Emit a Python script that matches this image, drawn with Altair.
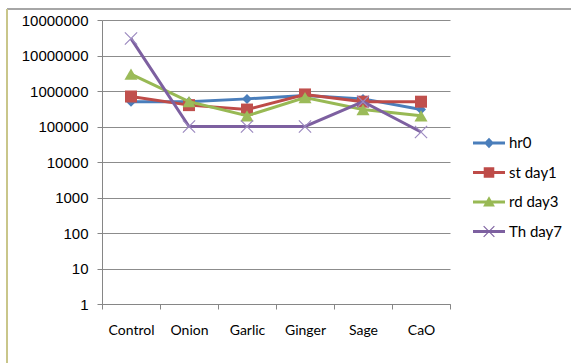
import altair as alt
import pandas as pd

# Bacterial counts per treatment over time
categories = ["Control", "Onion", "Garlic", "Ginger", "Sage", "CaO"]
series_names = ["hr0", "st day1", "rd day3", "Th day7"]
hr0 = [500000, 500000, 600000, 750000, 600000, 300000]
st_day1 = [700000, 400000, 300000, 800000, 500000, 500000]
rd_day3 = [3000000, 500000, 200000, 650000, 300000, 200000]
th_day7 = [30000000, 100000, 100000, 100000, 500000, 70000]

y_tick_values = [1, 10, 100, 1000, 10000, 100000, 1000000, 10000000, 100000000]
y_tick_labels = ["1", "10", "100", "1000", "10000", "100000", "1000000",
                 "10000000", "10000000"]

line_colors = ["#4a7ebb", "#be4b48", "#98b954", "#7d60a0"]
marker_colors = ["#4a7ebb", "#c0504d", "#9bbb59", "#9c8ac0"]

rows = []
for name, vals in zip(series_names, [hr0, st_day1, rd_day3, th_day7]):
    for cat, v in zip(categories, vals):
        rows.append({"category": cat, "series": name, "value": v})
df = pd.DataFrame(rows)

label_expr = "[{}][indexof([{}], datum.value)]".format(
    ",".join("'" + s + "'" for s in y_tick_labels),
    ",".join(str(v) for v in y_tick_values),
)

x_enc = alt.X(
    "category:N", sort=categories,
    scale=alt.Scale(type="band", paddingInner=0, paddingOuter=0),
    axis=alt.Axis(title=None, labelAngle=0, tickBand="extent", grid=False,
                  domainColor="#868686", tickColor="#868686", tickSize=5,
                  labelFont="Lato", labelFontSize=14, labelColor="#000000",
                  labelPadding=14),
)
y_enc = alt.Y(
    "value:Q",
    scale=alt.Scale(type="log", domain=[1, 100000000], nice=False),
    axis=alt.Axis(title=None, values=y_tick_values, labelExpr=label_expr,
                  grid=True, gridColor="#8c8c8c", gridWidth=1,
                  domainColor="#868686", tickColor="#868686", tickSize=5,
                  labelFont="Liberation Sans", labelFontSize=15,
                  labelColor="#000000", labelPadding=9),
)

# Legend glyphs: a short line segment with the series marker on it
seg = "M-1,-0.09H1V0.09H-1Z"
legend_shapes = [
    seg + "M0,-0.33L0.31,0L0,0.33L-0.31,0Z",
    seg + "M-0.33,-0.33H0.33V0.33H-0.33Z",
    seg + "M0,-0.36L0.37,0.28H-0.37Z",
    seg + "M-0.36,-0.31L-0.31,-0.36L0.36,0.31L0.31,0.36Z"
          "M0.31,-0.36L0.36,-0.31L-0.31,0.36L-0.36,0.31Z",
]

marker_specs = [
    dict(shape="diamond", size=100, filled=True),
    dict(shape="square", size=144, filled=True),
    dict(shape="triangle-up", size=170, filled=True),
    dict(shape="M-1,-1L1,1M-1,1L1,-1", size=150, filled=False, strokeWidth=1.2),
]

base = alt.Chart(df)
layers = []
for name, lcol, mcol, spec in zip(series_names, line_colors, marker_colors, marker_specs):
    sub = base.transform_filter(alt.datum.series == name)
    layers.append(sub.mark_line(strokeWidth=3, color=lcol).encode(x=x_enc, y=y_enc))
    pt_kwargs = dict(shape=spec["shape"], size=spec["size"], filled=spec["filled"],
                     opacity=1)
    if spec["filled"]:
        pt_kwargs["color"] = mcol
    else:
        pt_kwargs["stroke"] = mcol
        pt_kwargs["strokeWidth"] = spec["strokeWidth"]
    layers.append(sub.mark_point(**pt_kwargs).encode(x=x_enc, y=y_enc))

legend_opts = dict(title=None, orient="none", legendX=371, legendY=107,
                   symbolSize=1024, labelFont="Lato", labelFontSize=15,
                   labelColor="#000000", labelOffset=4, rowPadding=5.5,
                   symbolStrokeWidth=0, padding=0)

legend_layer = base.transform_filter("datum.value < 0").mark_point(
    filled=True, opacity=1
).encode(
    x=x_enc, y=y_enc,
    color=alt.Color("series:N",
                    scale=alt.Scale(domain=series_names, range=line_colors),
                    legend=alt.Legend(**legend_opts)),
    shape=alt.Shape("series:N",
                    scale=alt.Scale(domain=series_names, range=legend_shapes),
                    legend=alt.Legend(**legend_opts)),
)

# Outer chart frame: grey top edge and olive left edge
frame_df = pd.DataFrame({"k": [0]})
frame_top = alt.Chart(frame_df).mark_rule(color="#a6a6a6", strokeWidth=2).encode(
    x=alt.value(-95), x2=alt.value(469), y=alt.value(-11)
)
frame_left = alt.Chart(frame_df).mark_rule(color="#c9c68a", strokeWidth=2).encode(
    x=alt.value(-95), y=alt.value(-11), y2=alt.value(343)
)

chart = alt.layer(*layers, legend_layer, frame_top, frame_left).properties(
    width=348, height=284,
    padding={"left": 102, "top": 20, "right": 121, "bottom": 59},
    autosize=alt.AutoSizeParams(type="none"),
    background="#ffffff",
).configure_view(stroke=None)

chart.save("out.html", embed_options={"renderer": "svg", "actions": False})
